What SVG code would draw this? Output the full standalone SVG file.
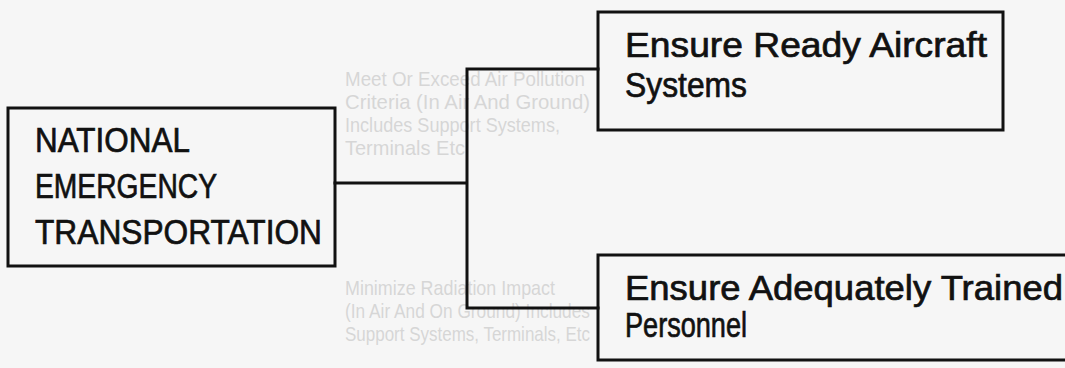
<svg xmlns="http://www.w3.org/2000/svg" width="1065" height="368" viewBox="0 0 1065 368">
  <style>
    .box { fill: none; stroke: #111; stroke-width: 3; }
    .wire { fill: none; stroke: #111; stroke-width: 3; stroke-linecap: square; }
    .label { font-family: "Liberation Sans", "DejaVu Sans", sans-serif; font-size: 35px; fill: #111; stroke: #111; stroke-width: 0.7; }
    .faint { font-family: "Liberation Sans", "DejaVu Sans", sans-serif; font-size: 21px; fill: #d6d6d6; }
  </style>
  <rect x="0" y="0" width="1065" height="368" fill="#f6f6f6"/>

  <!-- show-through printing from the reverse of the sheet -->
  <g id="reverse-side">
    <text class="faint" x="345" y="86" textLength="240" lengthAdjust="spacingAndGlyphs">Meet Or Exceed Air Pollution</text>
    <text class="faint" x="345" y="109" textLength="245" lengthAdjust="spacingAndGlyphs">Criteria (In Air And Ground)</text>
    <text class="faint" x="345" y="132" textLength="215" lengthAdjust="spacingAndGlyphs">Includes Support Systems,</text>
    <text class="faint" x="345" y="155" textLength="120" lengthAdjust="spacingAndGlyphs">Terminals Etc</text>
    <text class="faint" x="345" y="295" textLength="210" lengthAdjust="spacingAndGlyphs">Minimize Radiation Impact</text>
    <text class="faint" x="345" y="318" textLength="245" lengthAdjust="spacingAndGlyphs">(In Air And On Ground) Includes</text>
    <text class="faint" x="345" y="341" textLength="245" lengthAdjust="spacingAndGlyphs">Support Systems, Terminals, Etc</text>
  </g>

  <g id="connectors">
    <path class="wire" d="M335,183 H467 M467,69 V308 M467,69 H598 M467,308 H598"/>
  </g>

  <g id="national-emergency-transportation">
    <rect class="box" x="8" y="108" width="327" height="158"/>
    <text class="label" x="35" y="152" textLength="155" lengthAdjust="spacingAndGlyphs">NATIONAL</text>
    <text class="label" x="35" y="198" textLength="182" lengthAdjust="spacingAndGlyphs">EMERGENCY</text>
    <text class="label" x="35" y="244" textLength="287" lengthAdjust="spacingAndGlyphs">TRANSPORTATION</text>
  </g>

  <g id="ready-aircraft">
    <rect class="box" x="598" y="12" width="405" height="118"/>
    <text class="label" x="625" y="57" textLength="362" lengthAdjust="spacingAndGlyphs">Ensure Ready Aircraft</text>
    <text class="label" x="625" y="97" textLength="122" lengthAdjust="spacingAndGlyphs">Systems</text>
  </g>

  <g id="trained-personnel">
    <rect class="box" x="598" y="255" width="480" height="105"/>
    <text class="label" x="625" y="300" textLength="438" lengthAdjust="spacingAndGlyphs">Ensure Adequately Trained</text>
    <text class="label" x="625" y="337" textLength="122" lengthAdjust="spacingAndGlyphs">Personnel</text>
  </g>
</svg>
